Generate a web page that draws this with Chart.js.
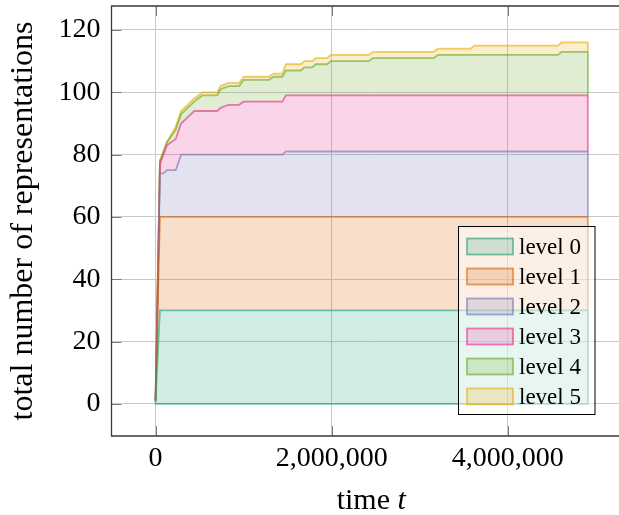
<!DOCTYPE html>
<html>
<head>
<meta charset="utf-8">
<script src="https://cdn.jsdelivr.net/npm/chart.js@4.4.1/dist/chart.umd.min.js"></script>
<style>
  html, body { margin: 0; padding: 0; background: #fff; overflow: hidden; }
  #chart { display: block; }
</style>
</head>
<body>
<canvas id="chart" width="631" height="515"></canvas>
<script>
// sample times t
const times = [0, 50e3, 90e3, 130e3, 230e3, 290e3, 440e3, 530e3, 700e3, 740e3,
  830e3, 950e3, 1000e3, 1290e3, 1340e3, 1440e3, 1480e3, 1650e3, 1690e3, 1780e3,
  1820e3, 1950e3, 1990e3, 2420e3, 2470e3, 3160e3, 3210e3, 3580e3, 3620e3, 4570e3,
  4610e3, 4910e3];

// representations per level at each sample time (stacked in the plot)
const level0 = [1, 30, 30, 30, 30, 30, 30, 30, 30, 30, 30, 30, 30, 30, 30, 30,
  30, 30, 30, 30, 30, 30, 30, 30, 30, 30, 30, 30, 30, 30, 30, 30];
const level1 = [0, 30, 30, 30, 30, 30, 30, 30, 30, 30, 30, 30, 30, 30, 30, 30,
  30, 30, 30, 30, 30, 30, 30, 30, 30, 30, 30, 30, 30, 30, 30, 30];
const level2 = [0, 14, 14, 15, 15, 20, 20, 20, 20, 20, 20, 20, 20, 20, 20, 20,
  21, 21, 21, 21, 21, 21, 21, 21, 21, 21, 21, 21, 21, 21, 21, 21];
const level3 = [0, 3, 6, 8, 10, 10, 14, 14, 14, 15, 16, 16, 17, 17, 17, 17,
  18, 18, 18, 18, 18, 18, 18, 18, 18, 18, 18, 18, 18, 18, 18, 18];
const level4 = [0, 1, 1, 1, 3, 3, 3, 5, 5, 6, 6, 6, 7, 7, 8, 8,
  8, 8, 9, 9, 10, 10, 11, 11, 12, 12, 13, 13, 13, 13, 14, 14];
const level5 = [0, 0, 0, 0, 1, 1, 1, 1, 1, 1, 1, 1, 1, 1, 1, 1,
  2, 2, 2, 2, 2, 2, 2, 2, 2, 2, 2, 2, 3, 3, 3, 3];

const levelLabels = ["level 0", "level 1", "level 2", "level 3", "level 4", "level 5"];
const levels = [level0, level1, level2, level3, level4, level5];

const xTicks = [0, 2000000, 4000000];
const yTicks = [0, 20, 40, 60, 80, 100, 120];

const colors = ["#1b9e77", "#d95f02", "#7570b3", "#e7298a", "#66a61e", "#e6ab02"];
const SERIF = "'Liberation Serif', 'DejaVu Serif', serif";

function rgba(hex, a) {
  const n = parseInt(hex.slice(1), 16);
  return `rgba(${(n >> 16) & 255}, ${(n >> 8) & 255}, ${n & 255}, ${a})`;
}

// closes each area on the right (and level 0 along the baseline), like closedcycle
const areaEdges = {
  id: "areaEdges",
  afterDatasetsDraw(chart) {
    const { ctx, chartArea, scales } = chart;
    ctx.save();
    ctx.beginPath();
    ctx.rect(chartArea.left, chartArea.top, chartArea.width, chartArea.height);
    ctx.clip();
    const y0 = scales.y.getPixelForValue(0);
    let prevY = y0;
    chart.data.datasets.forEach((ds, i) => {
      const pts = chart.getDatasetMeta(i).data;
      const first = pts[0];
      const last = pts[pts.length - 1];
      ctx.strokeStyle = ds.borderColor;
      ctx.lineWidth = ds.borderWidth;
      ctx.beginPath();
      if (i === 0) {
        ctx.moveTo(first.x, first.y);
        ctx.lineTo(first.x, y0);
        ctx.lineTo(last.x, y0);
      } else {
        ctx.moveTo(last.x, prevY);
      }
      ctx.lineTo(last.x, last.y);
      ctx.stroke();
      prevY = last.y;
    });
    ctx.restore();
  },
};

// axis box (left, top, bottom) with inner tick marks
const axisFrame = {
  id: "axisFrame",
  afterDatasetsDraw(chart) {
    const { ctx, chartArea: a, scales } = chart;
    ctx.save();
    ctx.strokeStyle = "#7a7a7a";
    ctx.lineWidth = 1;
    ctx.beginPath();
    yTicks.forEach((v) => {
      const y = Math.round(scales.y.getPixelForValue(v)) + 0.5;
      ctx.moveTo(a.left, y);
      ctx.lineTo(a.left + 10, y);
    });
    xTicks.forEach((v) => {
      const x = Math.round(scales.x.getPixelForValue(v)) + 0.5;
      ctx.moveTo(x, a.bottom);
      ctx.lineTo(x, a.bottom - 10);
      ctx.moveTo(x, a.top);
      ctx.lineTo(x, a.top + 10);
    });
    ctx.stroke();
    ctx.strokeStyle = "#3a3a3a";
    ctx.lineWidth = 1.3;
    ctx.beginPath();
    ctx.moveTo(a.right, a.top);
    ctx.lineTo(a.left, a.top);
    ctx.lineTo(a.left, a.bottom);
    ctx.lineTo(a.right, a.bottom);
    ctx.stroke();
    ctx.restore();
  },
};

const boxLegend = {
  id: "boxLegend",
  afterDraw(chart) {
    const { ctx } = chart;
    ctx.save();
    ctx.fillStyle = "rgba(255, 255, 255, 0.5)";
    ctx.fillRect(458.5, 226.5, 136.5, 188);
    ctx.strokeStyle = "#000";
    ctx.lineWidth = 1;
    ctx.strokeRect(458.5, 226.5, 136.5, 188);
    ctx.font = `23px ${SERIF}`;
    ctx.textBaseline = "alphabetic";
    chart.data.datasets.forEach((ds, i) => {
      const cy = 246.5 + i * 30;
      ctx.fillStyle = ds.backgroundColor;
      ctx.fillRect(467, cy - 8, 46, 16);
      ctx.strokeStyle = ds.borderColor;
      ctx.lineWidth = 1.8;
      ctx.strokeRect(467, cy - 8, 46, 16);
      ctx.fillStyle = "#000";
      ctx.fillText(ds.label, 519, cy + 7);
    });
    ctx.restore();
  },
};

const xTitle = {
  id: "xTitle",
  afterDraw(chart) {
    const { ctx, chartArea: a } = chart;
    ctx.save();
    ctx.fillStyle = "#000";
    ctx.textBaseline = "alphabetic";
    const upright = `30px ${SERIF}`;
    const italic = `italic 30px ${SERIF}`;
    ctx.font = upright;
    const w1 = ctx.measureText("time ").width;
    ctx.font = italic;
    const w2 = ctx.measureText("t").width;
    const x = (a.left + a.right) / 2 - (w1 + w2) / 2;
    ctx.font = upright;
    ctx.fillText("time ", x, 509);
    ctx.font = italic;
    ctx.fillText("t", x + w1, 509);
    ctx.restore();
  },
};

new Chart(document.getElementById("chart"), {
  type: "line",
  data: {
    datasets: levels.map((vals, i) => ({
      label: levelLabels[i],
      data: times.map((t, k) => ({ x: t, y: vals[k] })),
      borderColor: rgba(colors[i], 0.6),
      backgroundColor: rgba(colors[i], 0.2),
      borderWidth: 1.8,
      pointRadius: 0,
      tension: 0,
      fill: i === 0 ? "origin" : "-1",
    })),
  },
  options: {
    responsive: false,
    animation: false,
    events: [],
    layout: { padding: { top: 6, left: 0, right: 0, bottom: 0 } },
    plugins: {
      legend: { display: false },
      tooltip: { enabled: false },
    },
    scales: {
      x: {
        type: "linear",
        min: -500000,
        max: 5400000,
        afterBuildTicks: (s) => { s.ticks = xTicks.map((v) => ({ value: v })); },
        afterFit: (s) => {
          s.height = 79;
          s.paddingLeft = 0;
          s.paddingRight = 0;
        },
        border: { display: false },
        grid: { color: "#c8c8c8", drawTicks: false },
        ticks: {
          color: "#000",
          font: { family: SERIF, size: 28 },
          padding: 6,
          maxRotation: 0,
          callback: (v) => v.toLocaleString("en-US"),
        },
      },
      y: {
        stacked: true,
        min: -10.3,
        max: 127.7,
        afterBuildTicks: (s) => { s.ticks = yTicks.map((v) => ({ value: v })); },
        afterFit: (s) => {
          s.width = 111.5;
          s.paddingTop = 0;
          s.paddingBottom = 0;
        },
        border: { display: false },
        grid: { color: "#c8c8c8", drawTicks: false },
        ticks: {
          color: "#000",
          font: { family: SERIF, size: 28 },
          padding: 11,
        },
        title: {
          display: true,
          text: "total number of representations",
          color: "#000",
          font: { family: SERIF, size: 32 },
          padding: { top: 4, bottom: 0 },
        },
      },
    },
  },
  plugins: [areaEdges, axisFrame, boxLegend, xTitle],
});
</script>
</body>
</html>
